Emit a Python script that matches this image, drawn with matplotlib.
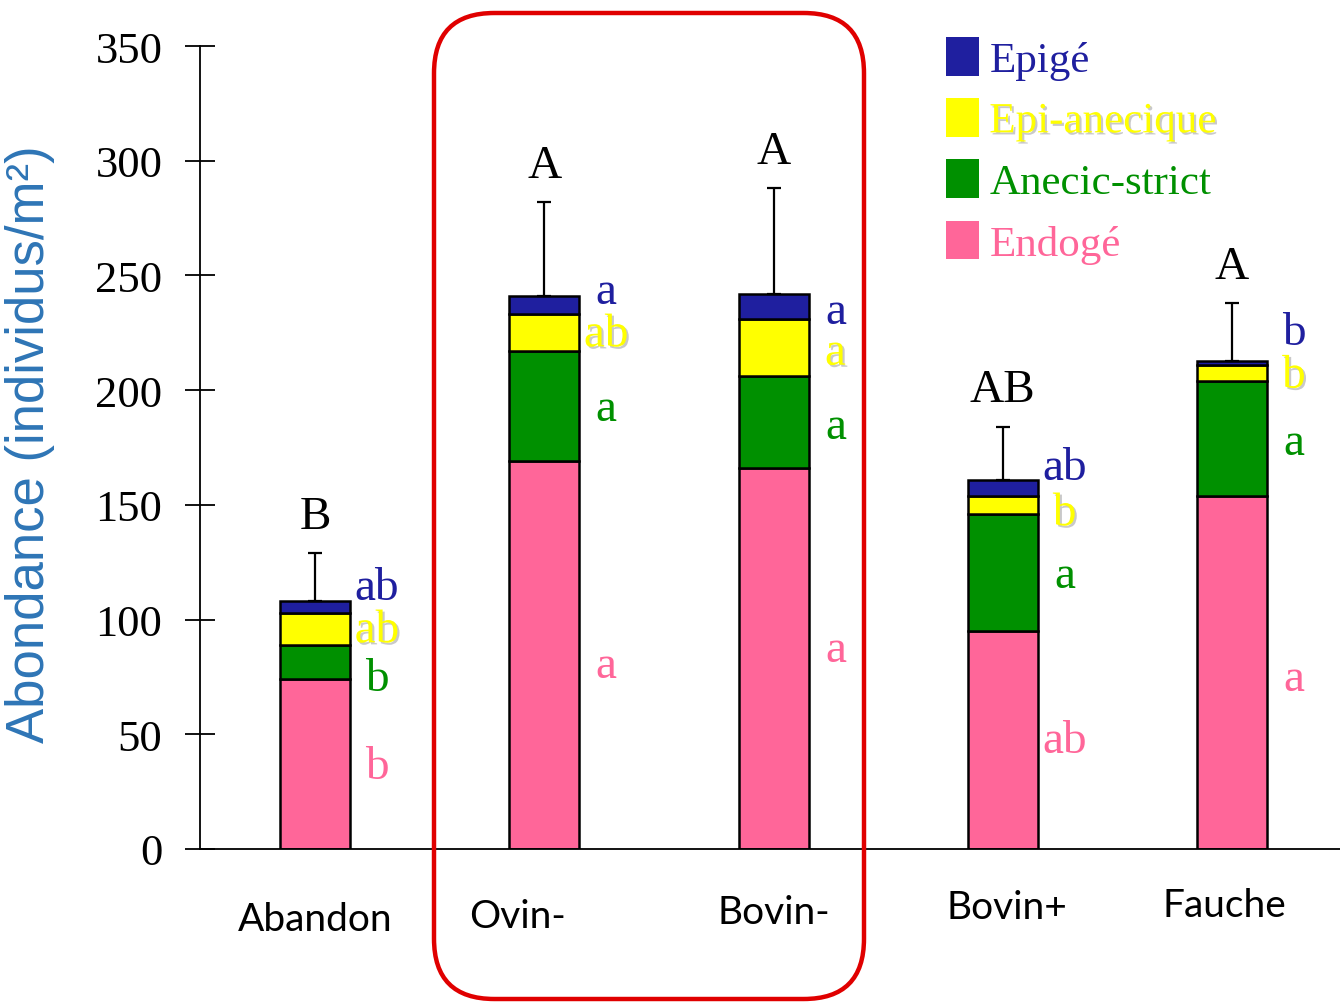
import matplotlib
matplotlib.use("Agg")
from matplotlib import pyplot as plt
from matplotlib.patches import Patch, FancyBboxPatch
import matplotlib.patheffects as pe
import numpy as np

# donnees (individus/m2)
traitements = ["Abandon", "Ovin-", "Bovin-", "Bovin+", "Fauche"]
endoge = [74, 169, 166, 95, 154]
anecic_strict = [15, 48, 40, 51, 50]
epi_anecique = [14, 16, 25, 8, 7]
epige = [5, 8, 11, 7, 1.5]
erreur_haut = [129, 282, 288, 184, 238]   # sommet des barres d'erreur

lettres_groupe = ["B", "A", "A", "AB", "A"]
lettres_epige = ["ab", "a", "a", "ab", "b"]
lettres_epi_anec = ["ab", "ab", "a", "b", "b"]
lettres_anecic = ["b", "a", "a", "a", "a"]
lettres_endoge = ["b", "a", "a", "ab", "a"]
# hauteur (axe y) des lettres a droite des barres
y_epige = [114, 243, 234, 166, 225]
y_epi_anec = [95, 224, 216, 146, 206]
y_anecic = [74, 192, 184, 119, 177]
y_endoge = [36, 80, 87, 47, 74]

c_epige = "#1F1F9F"
c_epi_anec = "#FFFF00"
c_anecic = "#009000"
c_endoge = "#FF6699"
serif = "Liberation Serif"
shadow = [pe.SimplePatchShadow(offset=(1.5, -1.5), shadow_rgbFace="#888888", alpha=0.45), pe.Normal()]

fig = plt.figure(figsize=(13.4, 10.04), dpi=100)
ax = fig.add_axes([200/1340, 154/1004, 1140/1340, 803/1004])

x = np.arange(len(traitements))
w = 0.305
b1 = np.array(endoge, dtype=float)
b2 = b1 + np.array(anecic_strict)
b3 = b2 + np.array(epi_anecique)
tot = b3 + np.array(epige)

kw = dict(width=w, edgecolor="black", linewidth=1.8)
ax.bar(x, endoge, color=c_endoge, **kw)
ax.bar(x, anecic_strict, bottom=b1, color=c_anecic, **kw)
ax.bar(x, epi_anecique, bottom=b2, color=c_epi_anec, **kw)
ax.bar(x, epige, bottom=b3, color=c_epige, **kw)

# barres d'erreur (vers le haut seulement)
ax.errorbar(x, tot, yerr=[np.zeros(len(x)), np.array(erreur_haut) - tot],
            fmt="none", ecolor="black", elinewidth=1.6, capsize=5, capthick=1.6, zorder=1)

for i in range(len(x)):
    ax.text(x[i], erreur_haut[i] + 16, lettres_groupe[i], ha="center", va="center",
            fontsize=34, family=serif, color="black")
    xl = x[i] + 0.27
    ax.text(xl, y_epige[i], lettres_epige[i], ha="center", va="center", fontsize=34, family=serif, color=c_epige)
    ax.text(xl, y_epi_anec[i], lettres_epi_anec[i], ha="center", va="center", fontsize=34, family=serif,
            color=c_epi_anec, path_effects=shadow)
    ax.text(xl, y_anecic[i], lettres_anecic[i], ha="center", va="center", fontsize=34, family=serif, color=c_anecic)
    ax.text(xl, y_endoge[i], lettres_endoge[i], ha="center", va="center", fontsize=34, family=serif, color=c_endoge)

ax.set_xlim(-0.502, 4.471)
ax.set_ylim(0, 350)
ax.set_yticks(np.arange(0, 351, 50))
ax.tick_params(axis="y", direction="inout", length=22, width=1.3, pad=16, labelsize=32)
for t in ax.get_yticklabels():
    t.set_family(serif)
ax.set_xticks([])
for s in ["top", "right"]:
    ax.spines[s].set_visible(False)
ax.spines["left"].set_linewidth(1.3)
ax.spines["bottom"].set_linewidth(1.3)
ax.spines["left"].set_bounds(0, 350)

# etiquettes des traitements
dx = [0.0, -0.118, 0.0, 0.02, -0.035]
dy = [-0.087, -0.083, -0.078, -0.072, -0.070]
for i, lab in enumerate(traitements):
    ax.text(x[i] + dx[i], dy[i], lab, transform=ax.get_xaxis_transform(), ha="center", va="center",
            fontsize=28, family="Lato", color="black")

ax.set_ylabel("Abondance (individus/m²)", fontsize=38, color="#2E75B6", family="Liberation Sans")
ax.yaxis.set_label_coords(-0.127, 0.505)

handles = [Patch(facecolor=c_epige), Patch(facecolor=c_epi_anec),
           Patch(facecolor=c_anecic), Patch(facecolor=c_endoge)]
leg = ax.legend(handles, ["Epigé", "Epi-anecique", "Anecic-strict", "Endogé"],
                loc="upper left", bbox_to_anchor=(729/1140, 1.0 + 26/803), frameon=False,
                prop={"family": serif, "size": 31}, handlelength=0.75, handleheight=1.0,
                handletextpad=0.25, labelspacing=0.42, borderaxespad=0,
                labelcolor=[c_epige, c_epi_anec, c_anecic, c_endoge])
leg.get_texts()[1].set_path_effects(shadow)

# cadre rouge autour de Ovin- et Bovin-
box = FancyBboxPatch((434/1340, 4/1004), 430/1340, 986/1004, boxstyle="round,pad=0,rounding_size=0.045",
                     transform=fig.transFigure, facecolor="none", edgecolor="#E00000", linewidth=3.2,
                     mutation_aspect=1340/1004)
fig.patches.append(box)

fig.savefig("out.png", dpi=100)
